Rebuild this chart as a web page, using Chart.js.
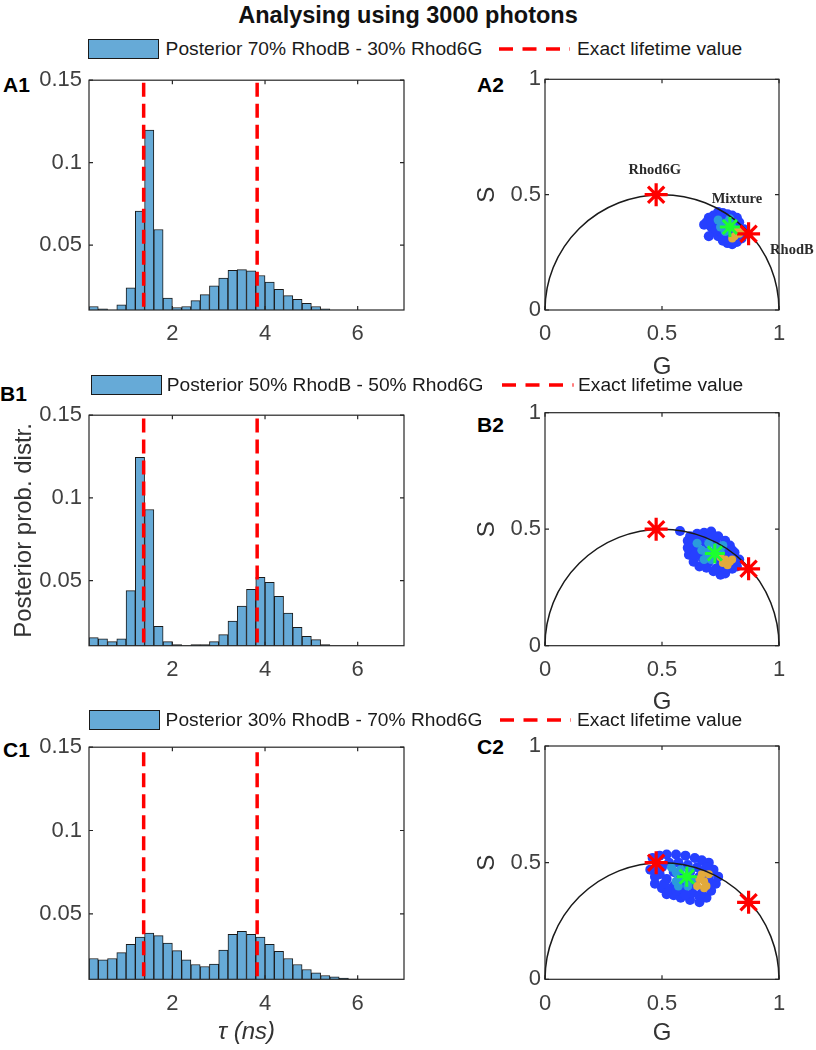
<!DOCTYPE html>
<html>
<head>
<meta charset="utf-8">
<script src="https://cdn.jsdelivr.net/npm/chart.js@4.4.1/dist/chart.umd.min.js"></script>
<style>
body{margin:0;background:#fff;font-family:"Liberation Sans",Arial,sans-serif;color:#1a1a1a;}
#fig{position:relative;width:816px;height:1050px;overflow:hidden;}
canvas{position:absolute;}
.txt{position:absolute;white-space:nowrap;}
.lbl{font-weight:bold;font-size:21px;line-height:24px;color:#000;}
.leg{font-size:19.2px;line-height:22px;color:#1a1a1a;}
.box{position:absolute;background:#66aad7;border:1.5px solid #1a1a1a;box-sizing:border-box;}
svg{position:absolute;overflow:visible;}
</style>
</head>
<body>
<div id="fig">
  <div class="txt" style="left:0;width:816px;top:1px;text-align:center;font-weight:bold;font-size:23.5px;line-height:28px;color:#111;">Analysing using 3000 photons</div>
  <div class="txt lbl" style="left:3px;top:73px;">A1</div>
  <div class="txt lbl" style="left:477px;top:73px;">A2</div>
  <div class="txt lbl" style="left:0px;top:382px;">B1</div>
  <div class="txt lbl" style="left:477px;top:413px;">B2</div>
  <div class="txt lbl" style="left:3px;top:738px;">C1</div>
  <div class="txt lbl" style="left:477px;top:735px;">C2</div>
  <canvas id="histA" width="420" height="330" style="left:0;top:60px;"></canvas>
  <canvas id="histB" width="420" height="330" style="left:0;top:395px;"></canvas>
  <canvas id="histC" width="420" height="323" style="left:0;top:727px;"></canvas>
  <canvas id="phasorA" width="356" height="330" style="left:460px;top:60px;"></canvas>
  <canvas id="phasorB" width="356" height="330" style="left:460px;top:395px;"></canvas>
  <canvas id="phasorC" width="356" height="323" style="left:460px;top:727px;"></canvas>
</div>
<script>
// histogram bins (ns) and posterior heights
var tauCentres = [0.3,0.5,0.7,0.9,1.1,1.3,1.5,1.7,1.9,2.1,2.3,2.5,2.7,2.9,3.1,3.3,3.5,3.7,3.9,4.1,4.3,4.5,4.7,4.9,5.1,5.3,5.5,5.7,5.9];
var postA = [0.0128,0.0114,0.009,0.0138,0.0242,0.0707,0.1198,0.0595,0.018,0.0122,0.0128,0.0164,0.020,0.0253,0.030,0.0348,0.0352,0.0344,0.0316,0.0276,0.0232,0.0194,0.0172,0.0148,0.0128,0.0114,0,0,0];
var postB = [0.0156,0.0148,0.0132,0.0148,0.044,0.1246,0.093,0.0224,0.0132,0.0114,0.009,0.0114,0.0114,0.0132,0.0174,0.0256,0.0346,0.0448,0.052,0.049,0.0406,0.0304,0.0218,0.0164,0.0144,0.0114,0,0,0];
var postC = [0.0232,0.0224,0.0232,0.0267,0.0317,0.0361,0.0385,0.0369,0.0325,0.0279,0.0224,0.0196,0.0184,0.0198,0.0283,0.0377,0.0395,0.0377,0.0361,0.0317,0.0275,0.0232,0.0196,0.0166,0.0146,0.013,0.0122,0.0114,0.0108];
var exactTau = [1.38, 3.83];
var histXTicks = [2, 4, 6];
var histYTicks = [0.05, 0.1, 0.15];
var tauMin = 0.2, tauMax = 7, histYMin = 0.0107, histYMax = 0.15;

var mixLabels = ['Posterior 70% RhodB - 30% Rhod6G', 'Posterior 50% RhodB - 50% Rhod6G', 'Posterior 30% RhodB - 70% Rhod6G'];
var exactLabel = 'Exact lifetime value';

// phasor plots (G, S)
var phasorTicks = [0, 0.5, 1];
var pureDyes = [[0.475, 0.5], [0.87, 0.33]];
var mixCentreA = [[0.79, 0.36]];
var mixCentreB = [[0.726, 0.396]];
var mixCentreC = [[0.606, 0.44]];
var blueA = [[0.70,0.40],[0.69,0.38],[0.71,0.39],[0.72,0.41],[0.74,0.425],[0.76,0.42],[0.78,0.415],[0.80,0.41],[0.82,0.40],[0.83,0.38],[0.85,0.35],[0.855,0.33],[0.84,0.31],[0.82,0.295],[0.80,0.285],[0.78,0.29],[0.76,0.30],[0.74,0.32],[0.72,0.34],[0.70,0.32],[0.71,0.36],[0.73,0.37],[0.75,0.38],[0.77,0.36],[0.79,0.33],[0.81,0.32],[0.75,0.34],[0.77,0.40],[0.73,0.40],[0.68,0.37],
	[0.71,0.38],[0.73,0.35],[0.82,0.38],[0.78,0.31],[0.76,0.32],[0.75,0.41]];
var tealA = [[0.74,0.39],[0.76,0.37],[0.78,0.38],[0.80,0.36],[0.77,0.34],[0.75,0.36],[0.79,0.395]];
var orangeA = [[0.82,0.34],[0.83,0.33],[0.81,0.32],[0.84,0.345],[0.80,0.31]];
var blueB = [[0.577,0.492],[0.61,0.45],[0.62,0.47],[0.65,0.48],[0.68,0.485],[0.71,0.49],[0.74,0.47],[0.77,0.45],[0.79,0.43],[0.81,0.40],[0.83,0.37],[0.82,0.34],[0.80,0.33],[0.77,0.31],[0.75,0.305],[0.72,0.32],[0.69,0.335],[0.66,0.34],[0.635,0.36],[0.615,0.39],[0.61,0.42],[0.64,0.42],[0.66,0.45],[0.70,0.46],[0.73,0.44],[0.76,0.42],[0.78,0.39],[0.79,0.36],[0.75,0.34],[0.70,0.36],[0.67,0.38],[0.64,0.39],[0.72,0.40],[0.69,0.43],[0.74,0.37],
	[0.63,0.45],[0.67,0.47],[0.72,0.47],[0.77,0.33],[0.73,0.33],[0.68,0.355],[0.81,0.37],[0.80,0.41]];
var tealB = [[0.65,0.44],[0.67,0.41],[0.69,0.40],[0.70,0.44],[0.73,0.42],[0.75,0.40],[0.71,0.37],[0.68,0.37],[0.76,0.43]];
var orangeB = [[0.77,0.37],[0.79,0.36],[0.78,0.345],[0.80,0.37],[0.76,0.355],[0.75,0.38]];
var blueC = [[0.46,0.52],[0.45,0.47],[0.47,0.41],[0.50,0.39],[0.52,0.365],[0.55,0.36],[0.58,0.35],[0.62,0.34],[0.66,0.33],[0.69,0.35],[0.71,0.38],[0.73,0.41],[0.74,0.44],[0.72,0.47],[0.70,0.50],[0.67,0.51],[0.64,0.52],[0.60,0.53],[0.56,0.535],[0.52,0.535],[0.49,0.53],[0.50,0.48],[0.53,0.50],[0.57,0.50],[0.61,0.49],[0.65,0.48],[0.68,0.46],[0.70,0.43],[0.67,0.37],[0.63,0.37],[0.59,0.38],[0.55,0.40],[0.52,0.43],[0.49,0.45],[0.55,0.46],[0.60,0.41],[0.64,0.41],[0.58,0.44],[0.62,0.46],[0.66,0.44],[0.53,0.38],
	[0.47,0.44],[0.51,0.41],[0.66,0.355],[0.71,0.41],[0.48,0.49],[0.69,0.48],[0.60,0.36],[0.56,0.38]];
var tealC = [[0.54,0.48],[0.56,0.46],[0.58,0.47],[0.59,0.43],[0.56,0.42],[0.62,0.47],[0.61,0.40],[0.57,0.40],[0.63,0.43]];
var orangeC = [[0.66,0.43],[0.68,0.42],[0.67,0.45],[0.69,0.40],[0.65,0.40],[0.70,0.45],[0.68,0.39]];
var notesA = [{text:'Rhod6G', g:0.469, s:0.607}, {text:'Mixture', g:0.82, s:0.481}, {text:'RhodB', g:1.055, s:0.26}];

var tickFont = {family:'"Liberation Sans", Arial, sans-serif', size:22};
var titleFont = {family:'"Liberation Sans", Arial, sans-serif', size:24};
var tickColor = '#404040';

// box around the axes, ticks pointing inwards (matlab style)
var framePlugin = {
	id: 'frame',
	afterDraw: function(chart){
		var a = chart.chartArea, ctx = chart.ctx;
		var sx = chart.scales.x, sy = chart.scales.y, len = 4;
		ctx.save();
		ctx.strokeStyle = '#262626';
		ctx.lineWidth = 1.2;
		ctx.strokeRect(a.left, a.top, a.right - a.left, a.bottom - a.top);
		ctx.beginPath();
		sx.ticks.forEach(function(t){
			var px = sx.getPixelForValue(t.value);
			ctx.moveTo(px, a.bottom); ctx.lineTo(px, a.bottom - len);
			ctx.moveTo(px, a.top); ctx.lineTo(px, a.top + len);
		});
		sy.ticks.forEach(function(t){
			var py = sy.getPixelForValue(t.value);
			ctx.moveTo(a.left, py); ctx.lineTo(a.left + len, py);
			ctx.moveTo(a.right, py); ctx.lineTo(a.right - len, py);
		});
		ctx.stroke();
		ctx.restore();
	}
};

function fixedTicks(list){
	return function(scale){
		scale.ticks = list.map(function(v){ return {value: v}; });
	};
}

function setHistChart(id, values, topPad, xHeight, yTitle, xTitle){
	var datasets = [{
		type: 'bar',
		data: tauCentres.map(function(t, i){ return {x: t, y: values[i]}; }),
		backgroundColor: '#66aad7',
		borderColor: '#1a1a1a',
		borderWidth: 1,
		barPercentage: 1,
		categoryPercentage: 1,
		order: 2
	}];
	exactTau.forEach(function(t){
		datasets.push({
			type: 'line',
			data: [{x: t, y: 0}, {x: t, y: histYMax}],
			borderColor: '#ff0000',
			borderWidth: 3.5,
			borderDash: [14, 7],
			pointRadius: 0,
			order: 1
		});
	});
	new Chart(document.getElementById(id), {
		type: 'bar',
		data: {datasets: datasets},
		plugins: [framePlugin],
		options: {
			responsive: false,
			animation: false,
			events: [],
			layout: {padding: {top: topPad, right: 16, left: 0, bottom: 0}},
			plugins: {legend: {display: false}, tooltip: {enabled: false}},
			scales: {
				x: {
					type: 'linear', min: tauMin, max: tauMax, offset: false,
					grid: {display: false, drawTicks: false}, border: {display: false},
					afterBuildTicks: fixedTicks(histXTicks),
					afterFit: function(s){ s.height = xHeight; },
					ticks: {font: tickFont, color: tickColor, padding: 11, maxRotation: 0, autoSkip: false,
						callback: function(v){ return String(v); }},
					title: {display: !!xTitle, text: xTitle, font: Object.assign({style: 'italic'}, titleFont), color: '#333', padding: {top: 0, bottom: 3}}
				},
				y: {
					min: histYMin, max: histYMax,
					grid: {display: false, drawTicks: false}, border: {display: false},
					afterBuildTicks: fixedTicks(histYTicks),
					afterFit: function(s){ s.width = 89; },
					ticks: {font: tickFont, color: tickColor, padding: 7,
						callback: function(v){ return String(v); }},
					title: {display: !!yTitle, text: yTitle, font: titleFont, color: '#333', padding: {top: 10, bottom: 0}}
				}
			}
		}
	});
}

function setPhasorChart(id, blue, teal, orange, centre, notes, topPad, xHeight, gPad){
	// universal circle, drawn just above the cloud but under the stars
	var circlePlugin = {
		id: 'circle',
		afterDatasetDraw: function(chart, args){
			if (args.index !== 2) return;
			var sx = chart.scales.x, sy = chart.scales.y, ctx = chart.ctx;
			var cx = sx.getPixelForValue(0.5), cy = sy.getPixelForValue(0);
			var rx = sx.getPixelForValue(1) - cx, ry = cy - sy.getPixelForValue(0.5);
			ctx.save();
			ctx.strokeStyle = '#1a1a1a';
			ctx.lineWidth = 1.5;
			ctx.beginPath();
			ctx.ellipse(cx, cy, rx, ry, 0, Math.PI, 2 * Math.PI);
			ctx.stroke();
			ctx.restore();
		}
	};
	var notePlugin = {
		id: 'notes',
		afterDraw: function(chart){
			var sx = chart.scales.x, sy = chart.scales.y, ctx = chart.ctx;
			ctx.save();
			ctx.font = 'bold 14.5px "Liberation Serif", "Times New Roman", serif';
			ctx.fillStyle = '#2a2a2a';
			ctx.textAlign = 'center';
			ctx.textBaseline = 'middle';
			notes.forEach(function(n){
				ctx.fillText(n.text, sx.getPixelForValue(n.g), sy.getPixelForValue(n.s));
			});
			ctx.restore();
		}
	};
	new Chart(document.getElementById(id), {
		type: 'scatter',
		data: {
			datasets: [
				{data: centre, pointStyle: 'star', pointRadius: 10, pointBorderColor: '#1cff2e', pointBorderWidth: 3},
				{data: pureDyes, pointStyle: 'star', pointRadius: 11.5, pointBorderColor: '#ff0000', pointBorderWidth: 3.2},
				{data: orange, pointRadius: 4, pointBackgroundColor: '#e2aa3c', pointBorderWidth: 0},
				{data: teal, pointRadius: 4.5, pointBackgroundColor: '#2a9bdc', pointBorderWidth: 0},
				{data: blue, pointRadius: 5, pointBackgroundColor: '#2640ff', pointBorderWidth: 0}
			]
		},
		plugins: [circlePlugin, framePlugin, notePlugin],
		options: {
			responsive: false,
			animation: false,
			events: [],
			layout: {padding: {top: topPad, right: 37, left: 0, bottom: 0}},
			plugins: {legend: {display: false}, tooltip: {enabled: false}},
			scales: {
				x: {
					type: 'linear', min: 0, max: 1,
					grid: {display: false, drawTicks: false}, border: {display: false},
					afterBuildTicks: fixedTicks(phasorTicks),
					afterFit: function(s){ s.height = xHeight; },
					ticks: {font: tickFont, color: tickColor, padding: 11, maxRotation: 0, autoSkip: false,
						callback: function(v){ return String(v); }},
					title: {display: true, text: 'G', font: titleFont, color: '#333', padding: {top: 0, bottom: gPad}}
				},
				y: {
					type: 'linear', min: 0, max: 1,
					grid: {display: false, drawTicks: false}, border: {display: false},
					afterBuildTicks: fixedTicks(phasorTicks),
					afterFit: function(s){ s.width = 85; },
					ticks: {font: tickFont, color: tickColor, padding: 4,
						callback: function(v){ return String(v); }},
					title: {display: true, text: 'S', font: titleFont, color: '#333', padding: {top: 12.6, bottom: 0}}
				}
			}
		}
	});
}

function addLegend(text, boxLeft, boxTop, boxW, boxH, textLeft, midY, dashLeft, dashRight, exactLeft){
	var fig = document.getElementById('fig');
	var box = document.createElement('div');
	box.className = 'box';
	box.style.cssText = 'left:' + boxLeft + 'px;top:' + boxTop + 'px;width:' + boxW + 'px;height:' + boxH + 'px;';
	fig.appendChild(box);

	var t1 = document.createElement('div');
	t1.className = 'txt leg';
	t1.style.cssText = 'left:' + textLeft + 'px;top:' + (midY - 11) + 'px;';
	t1.textContent = text;
	fig.appendChild(t1);

	var ns = 'http://www.w3.org/2000/svg';
	var svg = document.createElementNS(ns, 'svg');
	svg.setAttribute('width', dashRight - dashLeft);
	svg.setAttribute('height', 10);
	svg.style.left = dashLeft + 'px';
	svg.style.top = (midY - 5) + 'px';
	var ln = document.createElementNS(ns, 'line');
	ln.setAttribute('x1', 0); ln.setAttribute('y1', 5);
	ln.setAttribute('x2', dashRight - dashLeft); ln.setAttribute('y2', 5);
	ln.setAttribute('stroke', '#ff0000');
	ln.setAttribute('stroke-width', 3.5);
	ln.setAttribute('stroke-dasharray', '14 9.5');
	svg.appendChild(ln);
	fig.appendChild(svg);

	var t2 = document.createElement('div');
	t2.className = 'txt leg';
	t2.style.cssText = 'left:' + exactLeft + 'px;top:' + (midY - 11) + 'px;';
	t2.textContent = exactLabel;
	fig.appendChild(t2);
}

addLegend(mixLabels[0], 87.5, 39.3, 71.5, 20, 165.6, 49.3, 499, 570, 577);
addLegend(mixLabels[1], 91, 375, 70.5, 19.5, 166.7, 385, 501.5, 573, 578);
addLegend(mixLabels[2], 88.5, 710, 71.5, 19.5, 165.6, 720, 500, 571, 577);

setHistChart('histA', postA, 19.3, 80, '', '');
setHistChart('histB', postB, 18.3, 79.3, 'Posterior prob. distr.', '');
setHistChart('histC', postC, 19, 70.7, '', 'τ (ns)');

setPhasorChart('phasorA', blueA, tealA, orangeA, mixCentreA, notesA, 19.3, 80, 8.6);
setPhasorChart('phasorB', blueB, tealB, orangeB, mixCentreB, [], 17.7, 79.3, 8.6);
setPhasorChart('phasorC', blueC, tealC, orangeC, mixCentreC, [], 19, 70.7, 2.6);
</script>
</body>
</html>
